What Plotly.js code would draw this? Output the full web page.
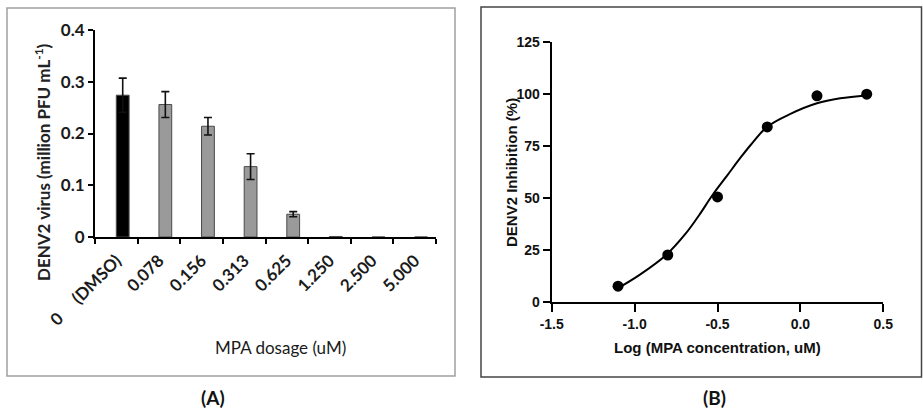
<!DOCTYPE html>
<html>
<head>
<meta charset="utf-8">
<script src="https://cdn.plot.ly/plotly-3.0.1.min.js"></script>
<style>
html,body{margin:0;padding:0;background:#fff;}
#chart{width:923px;height:414px;}
</style>
</head>
<body>
<div id="chart"></div>
<script>
// Panel A data
const dosageLabels = ["0\u00a0\u00a0\u00a0\u00a0\u00a0(DMSO)", "0.078", "0.156", "0.313", "0.625", "1.250", "2.500", "5.000"];
const virusTiter = [0.274, 0.256, 0.214, 0.136, 0.044, 0.001, 0, 0];
const virusErr = [0.033, 0.025, 0.017, 0.025, 0.005, NaN, NaN, NaN];
const barColors = ["#000000", "#9a9a9a", "#9a9a9a", "#9a9a9a", "#9a9a9a", "#9a9a9a", "#9a9a9a", "#9a9a9a"];
const yTicksA = [0, 0.1, 0.2, 0.3, 0.4];
const yTickTextA = ["0", "0.1", "0.2", "0.3", "0.4"];

// Panel B data
const logConc = [-1.1, -0.8, -0.5, -0.2, 0.1, 0.4];
const inhibition = [7.5, 22.5, 50.5, 84.2, 99.2, 100];
const fitX = [-1.10, -0.97, -0.81, -0.69, -0.61, -0.53, -0.44, -0.36, -0.30, -0.20, -0.06, 0.10, 0.24, 0.40];
const fitY = [6.5, 12.9, 22.5, 33.0, 41.8, 51.4, 61.0, 69.5, 75.5, 84.3, 90.5, 95.6, 98.0, 99.4];
const xTicksB = [-1.5, -1.0, -0.5, 0.0, 0.5];
const xTickTextB = ["-1.5", "-1.0", "-0.5", "0.0", "0.5"];
const yTicksB = [0, 25, 50, 75, 100, 125];
const yTickTextB = ["0", "25", "50", "75", "100", "125"];

const W = 923, H = 414;
const px = v => v / W;
const py = v => 1 - v / H;

const calibri = "Lato, 'Open Sans', sans-serif";
const arial = "'Liberation Sans', Arial, sans-serif";

const traces = [
  {
    type: "bar",
    x: dosageLabels,
    y: virusTiter,
    xaxis: "x", yaxis: "y",
    width: 0.3,
    offset: 0.0,
    marker: {color: barColors, line: {color: "#4a4a4a", width: 1}},
    error_y: {type: "data", array: virusErr, visible: true, color: "#111", thickness: 1.6, width: 4},
    hoverinfo: "skip"
  },
  {
    type: "scatter",
    mode: "lines",
    x: fitX, y: fitY,
    xaxis: "x2", yaxis: "y2",
    line: {color: "#000", width: 2, shape: "spline", smoothing: 1},
    hoverinfo: "skip"
  },
  {
    type: "scatter",
    mode: "markers",
    x: logConc, y: inhibition,
    xaxis: "x2", yaxis: "y2",
    marker: {color: "#000", size: 11},
    hoverinfo: "skip"
  }
];

const layout = {
  width: W, height: H,
  margin: {l: 0, r: 0, t: 0, b: 0, pad: 0},
  paper_bgcolor: "#fff", plot_bgcolor: "rgba(0,0,0,0)",
  showlegend: false,
  xaxis: {
    type: "category", domain: [px(95), px(436)], anchor: "y",
    range: [-0.5, 7.5], showgrid: false, zeroline: false,
    showline: true, linecolor: "#000", linewidth: 2,
    ticks: "outside", ticklen: 5, tickwidth: 2, tickcolor: "#000",
    tickson: "boundaries", tickangle: -45, ticklabelstandoff: 5,
    tickfont: {family: calibri, size: 17, color: "#1a1a1a", weight: 700}
  },
  yaxis: {
    domain: [py(237), py(30)], anchor: "x",
    range: [0, 0.4], tickvals: yTicksA, ticktext: yTickTextA,
    showgrid: false, zeroline: false,
    showline: true, linecolor: "#000", linewidth: 2,
    ticks: "outside", ticklen: 5, tickwidth: 2, tickcolor: "#000",
    tickfont: {family: calibri, size: 17, color: "#1a1a1a", weight: 700}
  },
  xaxis2: {
    domain: [px(551.7), px(883.3)], anchor: "y2",
    range: [-1.5, 0.5], tickvals: xTicksB, ticktext: xTickTextB,
    showgrid: false, zeroline: false,
    showline: true, linecolor: "#000", linewidth: 2,
    ticks: "outside", ticklen: 8, tickwidth: 2, tickcolor: "#000",
    tickfont: {family: arial, size: 14, color: "#111", weight: 700}
  },
  yaxis2: {
    domain: [py(301.7), py(42.3)], anchor: "x2",
    range: [0, 125], tickvals: yTicksB, ticktext: yTickTextB,
    showgrid: false, zeroline: false,
    showline: true, linecolor: "#000", linewidth: 2,
    ticks: "outside", ticklen: 7, tickwidth: 2, tickcolor: "#000",
    tickfont: {family: arial, size: 14, color: "#111", weight: 700}
  },
  shapes: [
    {type: "rect", xref: "paper", yref: "paper", x0: px(7), x1: px(455), y0: py(376), y1: py(8),
     line: {color: "#a0a0a0", width: 1.5}, fillcolor: "rgba(0,0,0,0)", layer: "below"},
    {type: "rect", xref: "paper", yref: "paper", x0: px(481), x1: px(921.5), y0: py(377), y1: py(7),
     line: {color: "#444", width: 1.5}, fillcolor: "rgba(0,0,0,0)", layer: "below"}
  ],
  annotations: [
    {text: "<b>DENV2 virus (million PFU mL<sup>-1</sup>)</b>", xref: "paper", yref: "paper",
     x: px(43), y: py(162), textangle: -90, showarrow: false, xanchor: "center", yanchor: "middle",
     font: {family: calibri, size: 17, color: "#222"}},
    {text: "MPA dosage (uM)", xref: "paper", yref: "paper",
     x: px(280), y: py(347), showarrow: false, xanchor: "center", yanchor: "middle",
     font: {family: calibri, size: 17, color: "#1a1a1a"}},
    {text: "<b>(A)</b>", xref: "paper", yref: "paper",
     x: px(213), y: py(397), showarrow: false, xanchor: "center", yanchor: "middle",
     font: {family: calibri, size: 19, color: "#111"}},
    {text: "<b>DENV2 Inhibition (%)</b>", xref: "paper", yref: "paper",
     x: px(511), y: py(172), textangle: -90, showarrow: false, xanchor: "center", yanchor: "middle",
     font: {family: arial, size: 15, color: "#111"}},
    {text: "<b>Log (MPA concentration, uM)</b>", xref: "paper", yref: "paper",
     x: px(717), y: py(347), showarrow: false, xanchor: "center", yanchor: "middle",
     font: {family: arial, size: 15, color: "#111"}},
    {text: "<b>(B)</b>", xref: "paper", yref: "paper",
     x: px(714), y: py(397), showarrow: false, xanchor: "center", yanchor: "middle",
     font: {family: calibri, size: 19, color: "#111"}}
  ]
};

Plotly.newPlot("chart", traces, layout, {staticPlot: true, displayModeBar: false});
</script>
</body>
</html>
